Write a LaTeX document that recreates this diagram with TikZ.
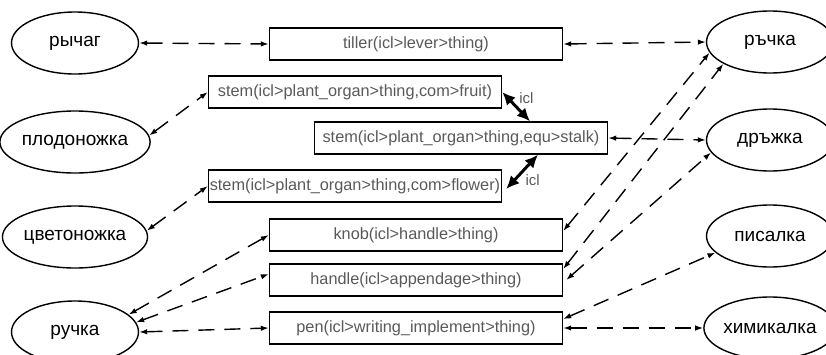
\documentclass[tikz,border=0pt]{standalone}
\usepackage{fontspec}
\setmainfont{Liberation Sans}
\usetikzlibrary{arrows.meta,shapes.geometric}

\begin{document}
\begin{tikzpicture}[x=1pt, y=1pt,
    word/.style={draw, ellipse, line width=1.4pt, minimum width=127pt, minimum height=62pt, inner sep=0pt, font=\fontsize{19}{22}\selectfont},
    uw/.style={draw, rectangle, line width=1.4pt, minimum width=293pt, minimum height=32pt, inner sep=0pt, text=black!65, font=\fontsize{16.3}{19}\selectfont},
    link/.style={{Latex[length=8pt,width=5.5pt]}-{Latex[length=8pt,width=5.5pt]}, line width=1.4pt, dash pattern=on 16pt off 10pt},
    icllink/.style={{Latex[length=13pt,width=12pt]}-{Latex[length=13pt,width=12pt]}, line width=3pt},
    lbl/.style={text=black!65, font=\fontsize{15}{18}\selectfont, inner sep=0pt}]
    \clip (0,0) rectangle (826,-354);

    % Bulgarian words, left
    \node[word] (rychag) at (75,-43) {рычаг};
    \node[word] (plodonozhka) at (75,-142) {плодоножка};
    \node[word] (cvetonozhka) at (75,-237) {цветоножка};
    \node[word] (ruchka) at (75,-332) {ручка};

    % Bulgarian words, right
    \node[word] (rachka) at (770,-42) {ръчка};
    \node[word] (drazhka) at (770,-140) {дръжка};
    \node[word] (pisalka) at (770,-236) {писалка};
    \node[word] (himikalka) at (770,-328) {химикалка};

    % UWs
    \node[uw] (tiller) at (416,-44) {tiller(icl>lever>thing)};
    \node[uw] (stemfruit) at (355,-92) {stem(icl>plant\_organ>thing,com>fruit)};
    \node[uw] (stemstalk) at (461,-138) {stem(icl>plant\_organ>thing,equ>stalk)};
    \node[uw] (stemflower) at (355,-186) {stem(icl>plant\_organ>thing,com>flower)};
    \node[uw] (knob) at (416,-235) {knob(icl>handle>thing)};
    \node[uw] (handle) at (416,-280) {handle(icl>appendage>thing)};
    \node[uw] (pen) at (416,-328) {pen(icl>writing\_implement>thing)};

    % Arrows, left side
    \draw[link] (rychag.east) -- (tiller.west);
    \draw[link] (plodonozhka.5) -- (stemfruit.west);
    \draw[link] (cvetonozhka.5) -- (stemflower.west);
    \draw[link] (ruchka.18) -- (knob.west);
    \draw[link] (ruchka.9) -- ([yshift=6pt]handle.west);
    \draw[link] (ruchka.east) -- (pen.west);

    % Arrows, right side
    \draw[link] (tiller.east) -- (rachka.west);
    \draw[link] ([yshift=4pt]knob.east) -- (rachka.190);
    \draw[link] ([yshift=11pt]handle.east) -- (rachka.205);
    \draw[link] ([xshift=3pt]handle.east) -- (drazhka.192);
    \draw[link] (stemstalk.east) -- (drazhka.west);
    \draw[link] ([yshift=9pt]pen.east) -- (pisalka.197);
    \draw[link] (pen.east) -- (himikalka.west);

    % icl links between the stems
    \draw[icllink] (stemfruit.east) -- ([xshift=69pt]stemstalk.north)
        node[lbl, pos=0.2, right=10pt] (icltop) {icl};
    \draw[icllink] ([xshift=77pt]stemstalk.south) -- ([xshift=4pt,yshift=-3pt]stemflower.east)
        node[lbl, pos=0.75, right=10pt] (iclbottom) {icl};
\end{tikzpicture}
\end{document}
